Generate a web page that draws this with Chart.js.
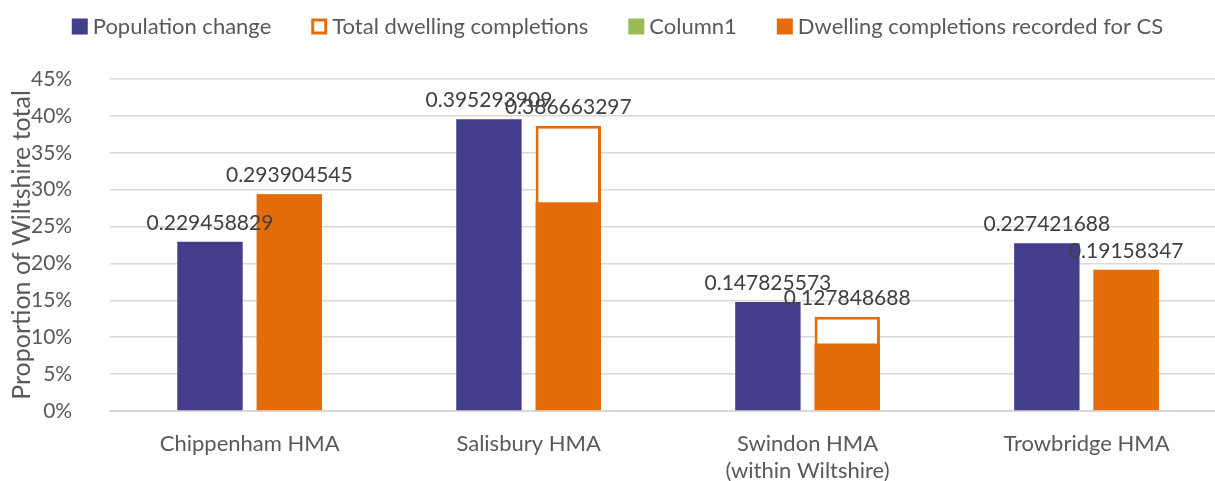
<!DOCTYPE html>
<html>
<head>
<meta charset="utf-8">
<script src="https://cdn.jsdelivr.net/npm/chart.js@4.4.1/dist/chart.umd.min.js"></script>
<style>
    html, body { margin:0; padding:0; overflow:hidden; background:#fff; }
    #wrap { width:1230px; height:500px; }
</style>
</head>
<body>
<div id="wrap"><canvas id="chart" width="1230" height="500"></canvas></div>
<script>
// Data
const categories = ['Chippenham HMA', 'Salisbury HMA', ['Swindon HMA', '(within Wiltshire)'], 'Trowbridge HMA'];
const populationChange = [0.229458829, 0.395293909, 0.147825573, 0.227421688];
const totalCompletions = [0.293904545, 0.386663297, 0.127848688, 0.19158347];
const column1 = [null, null, null, null];
const csCompletions = [0.293904545, 0.283, 0.0916, 0.19158347];
const yMax = 0.45;
const yStep = 0.05;

const PURPLE = '#433d8b';
const ORANGE = '#e46c0a';
const GREEN = '#9bbb59';
const FONT = 'Lato';

// value labels above the first two series (like Excel data labels)
const valueLabels = {
    id: 'valueLabels',
    afterDatasetsDraw(chart) {
        const ctx = chart.ctx;
        ctx.save();
        ctx.font = `21px ${FONT}`;
        ctx.fillStyle = '#404040';
        ctx.textAlign = 'center';
        ctx.textBaseline = 'alphabetic';
        [0, 1].forEach(i => {
            const meta = chart.getDatasetMeta(i);
            meta.data.forEach((bar, j) => {
                const v = chart.data.datasets[i].data[j];
                if (v == null) return;
                ctx.fillText(String(v), bar.x, bar.y - 12);
            });
        });
        ctx.restore();
    }
};

// legend row on top, drawn from the datasets
const topLegend = {
    id: 'topLegend',
    afterDraw(chart) {
        const ctx = chart.ctx;
        ctx.save();
        ctx.font = `22px ${FONT}`;
        const box = 16, gapText = 5, gapItem = 40;
        const items = chart.data.datasets.map(ds => ({
            text: ds.label,
            fill: ds.backgroundColor,
            stroke: ds.borderWidth ? ds.borderColor : null,
            w: ctx.measureText(ds.label).width
        }));
        const total = items.reduce((s, it) => s + box + gapText + it.w, 0) + gapItem * (items.length - 1);
        let x = 617.5 - total / 2;
        const top = 18.5;
        items.forEach(it => {
            if (it.stroke) {
                ctx.fillStyle = '#fff';
                ctx.fillRect(x, top, box, box);
                ctx.strokeStyle = it.stroke;
                ctx.lineWidth = 3;
                ctx.strokeRect(x + 1.5, top + 1.5, box - 3, box - 3);
            } else {
                ctx.fillStyle = it.fill;
                ctx.fillRect(x, top, box, box);
            }
            ctx.fillStyle = '#595959';
            ctx.textBaseline = 'alphabetic';
            ctx.fillText(it.text, x + box + gapText, 34);
            x += box + gapText + it.w + gapItem;
        });
        ctx.restore();
    }
};

new Chart(document.getElementById('chart'), {
    type: 'bar',
    data: {
        labels: categories,
        datasets: [
            { label: 'Population change', data: populationChange, backgroundColor: PURPLE, stack: 'a', order: -2 },
            { label: 'Total dwelling completions', data: totalCompletions, backgroundColor: '#ffffff',
              borderColor: ORANGE, borderWidth: 3, stack: 'b', order: 0 },
            { label: 'Column1', data: column1, backgroundColor: GREEN, stack: 'a', order: 0 },
            { label: 'Dwelling completions recorded for CS', data: csCompletions, backgroundColor: ORANGE, stack: 'b', order: -1 }
        ]
    },
    options: {
        responsive: false,
        animation: false,
        categoryPercentage: 0.569,
        barPercentage: 0.824,
        layout: { padding: { left: 4, right: 4, top: 79, bottom: 4 } },
        plugins: {
            legend: { display: false },
            tooltip: { enabled: false }
        },
        scales: {
            x: {
                z: 1,
                grid: { display: false },
                border: { display: true, color: '#d9d9d9', width: 2 },
                ticks: { color: '#595959', font: { family: FONT, size: 22, lineHeight: 1.25 }, padding: 11, maxRotation: 0 }
            },
            y: {
                stacked: false,
                min: 0,
                max: yMax,
                border: { display: false },
                grid: { color: '#d9d9d9', lineWidth: 1.5, drawTicks: false },
                ticks: {
                    stepSize: yStep,
                    color: '#595959',
                    font: { family: FONT, size: 21 },
                    padding: 38,
                    callback: v => Math.round(v * 100) + '%'
                },
                title: {
                    display: true,
                    text: 'Proportion of Wiltshire total',
                    color: '#595959',
                    font: { family: FONT, size: 25, lineHeight: 1.2 },
                    padding: { top: 3, bottom: -44 }
                }
            }
        }
    },
    plugins: [valueLabels, topLegend]
});
</script>
</body>
</html>
